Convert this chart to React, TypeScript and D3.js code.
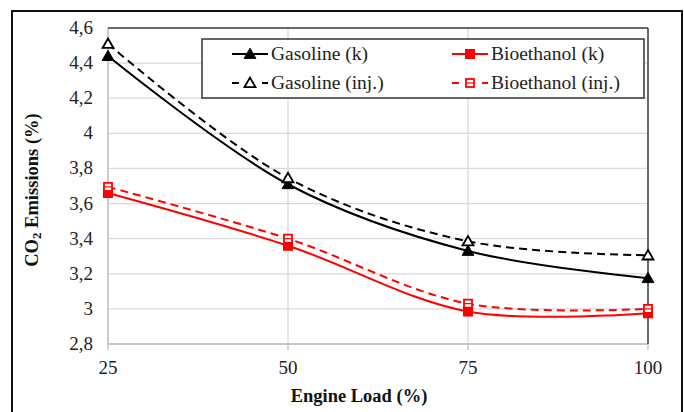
import React from "react";
import * as d3 from "d3";

const width = 684;
const height = 412;
const margin = { top: 28, right: 36, bottom: 68, left: 108 };

const loads = [25, 50, 75, 100];
const gasolineK = [4.44, 3.71, 3.33, 3.175];
const gasolineInj = [4.51, 3.745, 3.385, 3.305];
const bioK = [3.66, 3.36, 2.985, 2.975];
const bioInj = [3.695, 3.4, 3.03, 3.0];
const yTicks = [2.8, 3, 3.2, 3.4, 3.6, 3.8, 4, 4.2, 4.4, 4.6];

const series = [
  { name: "Gasoline (k)", values: gasolineK, color: "#000", dashed: false, marker: "tri", filled: true },
  { name: "Bioethanol (k)", values: bioK, color: "#ff0000", dashed: false, marker: "sq", filled: true },
  { name: "Gasoline (inj.)", values: gasolineInj, color: "#000", dashed: true, marker: "tri", filled: false },
  { name: "Bioethanol (inj.)", values: bioInj, color: "#ff0000", dashed: true, marker: "sq", filled: false },
];

const fmt = (v: number) => String(+v.toFixed(1)).replace(".", ",");
const font = "Liberation Serif";

function Marker({ kind, x, y, color, filled }: any) {
  if (kind === "tri") {
    const p = d3.symbol().type(d3.symbolTriangle).size(filled ? 60 : 52)();
    return (
      <path d={p as string} transform={`translate(${x},${y + 1})`} fill={filled ? color : "#fff"} stroke={color} strokeWidth={filled ? 1 : 1.8} />
    );
  }
  const s = filled ? 9 : 8;
  return (
    <g>
      <rect x={x - s / 2} y={y - s / 2} width={s} height={s} fill={filled ? color : "#fff"} stroke={color} strokeWidth={filled ? 1 : 1.8} />
      {!filled && <line x1={x - s / 2} x2={x + s / 2} y1={y} y2={y} stroke={color} strokeWidth={1.2} />}
    </g>
  );
}

export default function App() {
  const x = d3.scaleLinear().domain([25, 100]).range([margin.left, width - margin.right]);
  const y = d3.scaleLinear().domain([2.8, 4.6]).range([height - margin.bottom, margin.top]);
  const line = d3
    .line<number>()
    .x((_, i) => x(loads[i]))
    .y((d) => y(d))
    .curve(d3.curveCatmullRom.alpha(0.5));

  const x0 = margin.left;
  const x1 = width - margin.right;
  const y0 = height - margin.bottom;
  const y1 = margin.top;

  const legendRows = [
    [series[0], series[1]],
    [series[2], series[3]],
  ];
  const legendX = [232, 452];
  const legendY = [54, 83];

  return (
    <div style={{ position: "fixed", left: 0, top: 0 }}>
      <svg width={width} height={height} style={{ display: "block", background: "#fff", fontFamily: font }}>
        <rect x={12} y={11} width={670} height={410} fill="#fff" stroke="#111" strokeWidth={2} />
        {yTicks.map((t) => (
          <line key={t} x1={x0} x2={x1} y1={y(t)} y2={y(t)} stroke="#d9d9d9" strokeWidth={1.3} />
        ))}
        {loads.map((l) => (
          <line key={l} x1={x(l)} x2={x(l)} y1={y1} y2={y0} stroke="#d9d9d9" strokeWidth={1.3} />
        ))}
        <line x1={x0} x2={x1} y1={y0} y2={y0} stroke="#bfbfbf" strokeWidth={1.3} />
        <line x1={x0} x2={x0} y1={y1} y2={y0} stroke="#bfbfbf" strokeWidth={1.3} />
        {loads.map((l) => (
          <line key={"t" + l} x1={x(l)} x2={x(l)} y1={y0} y2={y0 + 6} stroke="#bfbfbf" strokeWidth={1.3} />
        ))}
        <line x1={x0} x2={x1} y1={y1} y2={y1} stroke="#404040" strokeWidth={1.5} />
        <line x1={x1} x2={x1} y1={y1} y2={y0} stroke="#404040" strokeWidth={1.5} />

        {yTicks.map((t) => (
          <text key={"l" + t} x={93} y={y(t) + 6} textAnchor="end" fontSize={19} fill="#222" style={{ fontFamily: font }}>
            {fmt(t)}
          </text>
        ))}
        {loads.map((l) => (
          <text key={"xl" + l} x={x(l)} y={374} textAnchor="middle" fontSize={19} fill="#222" style={{ fontFamily: font }}>
            {l}
          </text>
        ))}
        <text x={359} y={402} textAnchor="middle" fontSize={18.5} fontWeight="bold" fill="#111" style={{ fontFamily: font }}>
          Engine Load (%)
        </text>
        <text transform={`translate(38,190) rotate(-90)`} textAnchor="middle" fontSize={18.5} fontWeight="bold" fill="#111" style={{ fontFamily: font }}>
          CO<tspan fontSize={13} dy={3}>2</tspan>
          <tspan dy={-3}> Emissions (%)</tspan>
        </text>

        {series.map((s) => (
          <path key={s.name} d={line(s.values) as string} fill="none" stroke={s.color} strokeWidth={2} strokeDasharray={s.dashed ? "8,5" : undefined} />
        ))}
        {series.map((s) =>
          s.values.map((v, i) => (
            <Marker key={s.name + i} kind={s.marker} x={x(loads[i])} y={y(v)} color={s.color} filled={s.filled} />
          ))
        )}

        <rect x={202} y={39} width={442} height={59} fill="#fff" stroke="#333" strokeWidth={1.5} />
        {legendRows.map((row, r) =>
          row.map((s, c) => (
            <g key={s.name}>
              <line x1={legendX[c]} x2={legendX[c] + 36} y1={legendY[r]} y2={legendY[r]} stroke={s.color} strokeWidth={2} strokeDasharray={s.dashed ? "7,8" : undefined} />
              <Marker kind={s.marker} x={legendX[c] + 18} y={legendY[r]} color={s.color} filled={s.filled} />
              <text x={legendX[c] + 39} y={legendY[r] + 6} fontSize={19.5} fill="#222" style={{ fontFamily: font }}>
                {s.name}
              </text>
            </g>
          ))
        )}
      </svg>
    </div>
  );
}
